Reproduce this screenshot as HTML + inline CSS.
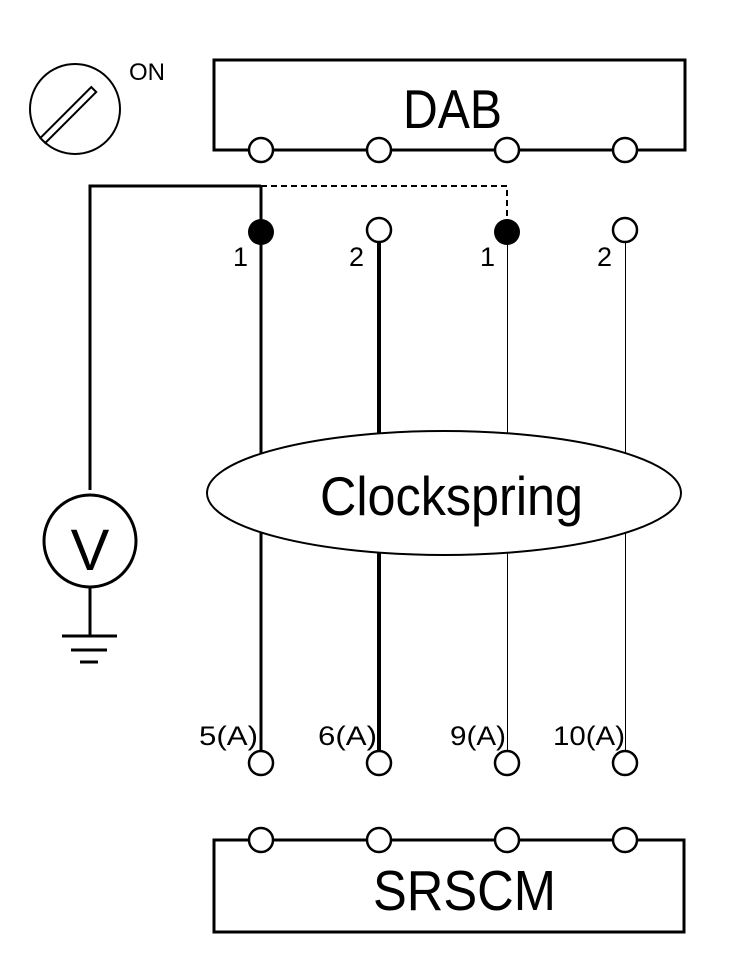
<!DOCTYPE html>
<html><head><style>html,body{margin:0;padding:0;background:#fff}svg{display:block}</style></head>
<body>
<svg width="752" height="974" viewBox="0 0 752 974" xmlns="http://www.w3.org/2000/svg" font-family="Liberation Sans, sans-serif">
<rect width="752" height="974" fill="#fff"/>
<!-- key switch -->
<circle cx="75" cy="109" r="45" fill="none" stroke="#000" stroke-width="2"/>
<g transform="rotate(-45 75 109)"><rect x="30" y="105" width="72" height="7" fill="#fff" stroke="#000" stroke-width="2"/></g>
<text x="129" y="80" font-size="24">ON</text>
<!-- DAB -->
<rect x="214" y="60" width="471" height="90" fill="none" stroke="#000" stroke-width="3"/>
<text x="403" y="128" font-size="55" textLength="99" lengthAdjust="spacingAndGlyphs">DAB</text>
<g fill="#fff" stroke="#000" stroke-width="2.5">
<circle cx="261" cy="150" r="12"/><circle cx="379" cy="150" r="12"/><circle cx="507" cy="150" r="12"/><circle cx="625" cy="150" r="12"/>
</g>
<!-- wiring -->
<polyline points="90,490 90,186 261,186" fill="none" stroke="#000" stroke-width="3"/>
<polyline points="261,186 507,186 507,220" fill="none" stroke="#000" stroke-width="2" stroke-dasharray="6,4"/>
<line x1="261" y1="186" x2="261" y2="752" stroke="#000" stroke-width="3"/>
<line x1="379" y1="240" x2="379" y2="752" stroke="#000" stroke-width="4"/>
<line x1="507.5" y1="240" x2="507.5" y2="752" stroke="#000" stroke-width="1" shape-rendering="crispEdges"/>
<line x1="625.5" y1="240" x2="625.5" y2="752" stroke="#000" stroke-width="1" shape-rendering="crispEdges"/>
<circle cx="261" cy="232" r="13" fill="#000"/>
<circle cx="507" cy="232" r="13" fill="#000"/>
<circle cx="379" cy="230" r="12" fill="#fff" stroke="#000" stroke-width="2.5"/>
<circle cx="625" cy="230" r="12" fill="#fff" stroke="#000" stroke-width="2.5"/>
<g font-size="27">
<text x="233" y="266">1</text><text x="349" y="266">2</text><text x="480" y="266">1</text><text x="597" y="266">2</text>
<text x="199" y="745" textLength="59" lengthAdjust="spacingAndGlyphs">5(A)</text><text x="318" y="745" textLength="59" lengthAdjust="spacingAndGlyphs">6(A)</text><text x="450" y="745" textLength="56" lengthAdjust="spacingAndGlyphs">9(A)</text><text x="553" y="745" textLength="72" lengthAdjust="spacingAndGlyphs">10(A)</text>
</g>
<!-- clockspring -->
<ellipse cx="444" cy="493" rx="237" ry="62" fill="#fff" stroke="#000" stroke-width="2"/>
<text x="320" y="515" font-size="55" textLength="263" lengthAdjust="spacingAndGlyphs">Clockspring</text>
<!-- voltmeter -->
<circle cx="90" cy="541" r="46" fill="#fff" stroke="#000" stroke-width="3"/>
<text x="90" y="570" font-size="58" text-anchor="middle">V</text>
<line x1="90" y1="587" x2="90" y2="636" stroke="#000" stroke-width="3"/>
<line x1="62" y1="636" x2="117" y2="636" stroke="#000" stroke-width="3"/>
<line x1="71" y1="650" x2="107" y2="650" stroke="#000" stroke-width="3"/>
<line x1="80" y1="662" x2="98" y2="662" stroke="#000" stroke-width="3"/>
<!-- bottom terminals -->
<g fill="#fff" stroke="#000" stroke-width="2.5">
<circle cx="261" cy="763" r="12"/><circle cx="379" cy="763" r="12"/><circle cx="507" cy="763" r="12"/><circle cx="625" cy="763" r="12"/>
</g>
<!-- SRSCM -->
<rect x="214" y="840" width="470" height="92" fill="none" stroke="#000" stroke-width="3"/>
<g fill="#fff" stroke="#000" stroke-width="2.5">
<circle cx="261" cy="840" r="12"/><circle cx="379" cy="840" r="12"/><circle cx="507" cy="840" r="12"/><circle cx="625" cy="840" r="12"/>
</g>
<text x="373" y="910" font-size="57" textLength="183" lengthAdjust="spacingAndGlyphs">SRSCM</text>
</svg>
</body></html>
